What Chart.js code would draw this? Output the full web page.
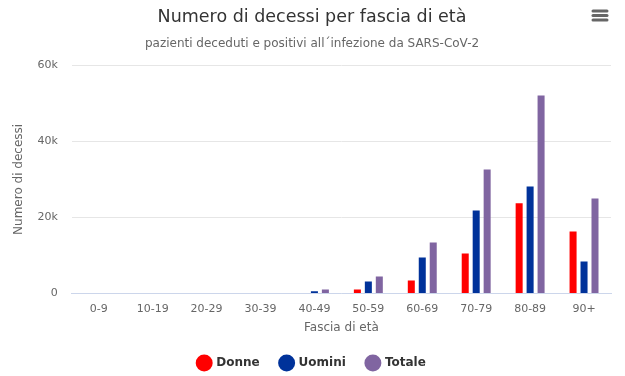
<!DOCTYPE html>
<html>
<head>
<meta charset="utf-8">
<script src="https://cdn.jsdelivr.net/npm/chart.js@4"></script>
<style>
  html, body { margin: 0; padding: 0; background: #fff; }
  #wrap { position: relative; width: 625px; height: 376px; }
</style>
</head>
<body>
<div id="wrap"><canvas id="barChart" width="625" height="376"></canvas></div>
<script>
// fasce di età
const fasce = ['0-9', '10-19', '20-29', '30-39', '40-49', '50-59', '60-69', '70-79', '80-89', '90+'];
// decessi stimati dal grafico
const donne  = [0, 0, 0, 0, 0, 1050, 3420, 10500, 23700, 16300];
const uomini = [0, 0, 0, 0, 550, 3150, 9470, 21800, 28150, 8400];
const totale = [0, 0, 0, 0, 1050, 4470, 13400, 32600, 52100, 25000];
const yTicks = [0, 20000, 40000, 60000];

const fontFam = "'DejaVu Sans', sans-serif";

// icona menu in alto a destra
const menuIcon = {
    id: 'menuIcon',
    afterDraw(chart) {
        const c = chart.ctx;
        c.save();
        c.strokeStyle = '#666';
        c.lineWidth = 3;
        c.lineCap = 'round';
        [11, 15.5, 20].forEach(y => {
            c.beginPath();
            c.moveTo(593, y);
            c.lineTo(607, y);
            c.stroke();
        });
        c.restore();
    }
};

const data = {
    labels: fasce,
    datasets: [
        { label: 'Donne', data: donne, backgroundColor: '#ff0000' },
        { label: 'Uomini', data: uomini, backgroundColor: '#00329a' },
        { label: 'Totale', data: totale, backgroundColor: '#8065a1' }
    ]
};

const config = {
    type: 'bar',
    data: data,
    plugins: [menuIcon],
    options: {
        responsive: false,
        animation: false,
        datasets: {
            bar: { barPercentage: 0.64, categoryPercentage: 0.61, borderWidth: 0 }
        },
        layout: { padding: { left: 13, right: 14, top: 0, bottom: -3 } },
        plugins: {
            title: {
                display: true,
                text: 'Numero di decessi per fascia di età',
                color: '#333',
                font: { family: fontFam, size: 17.5, weight: 'normal' },
                padding: { top: 7, bottom: 9 }
            },
            subtitle: {
                display: true,
                text: 'pazienti deceduti e positivi all´infezione da SARS-CoV-2',
                color: '#666',
                font: { family: fontFam, size: 12 },
                padding: { bottom: 14 }
            },
            legend: {
                position: 'bottom',
                labels: {
                    usePointStyle: true,
                    pointStyle: 'circle',
                    boxWidth: 12,
                    boxHeight: 12,
                    padding: 21,
                    color: '#333',
                    font: { family: fontFam, size: 12, weight: 'bold' }
                }
            },
            tooltip: { enabled: false }
        },
        scales: {
            x: {
                grid: { display: false, drawTicks: false },
                border: { color: '#ccd6eb', width: 1 },
                ticks: { color: '#666', font: { family: fontFam, size: 11 }, padding: 9 },
                title: {
                    display: true,
                    text: 'Fascia di età',
                    color: '#666',
                    font: { family: fontFam, size: 12 },
                    padding: { top: -4, bottom: 1 }
                }
            },
            y: {
                min: 0,
                max: 60000,
                afterBuildTicks(axis) {
                    axis.ticks = yTicks.map(v => ({ value: v }));
                },
                grid: { color: '#e6e6e6', drawTicks: false },
                border: { display: false },
                ticks: {
                    color: '#666',
                    font: { family: fontFam, size: 11 },
                    padding: 14,
                    callback: v => v === 0 ? '0' : (v / 1000) + 'k'
                },
                title: {
                    display: true,
                    text: 'Numero di decessi',
                    color: '#666',
                    font: { family: fontFam, size: 12 },
                    padding: { top: -1, bottom: -3 }
                }
            }
        }
    }
};

const barChart = new Chart(document.getElementById('barChart').getContext('2d'), config);
</script>
</body>
</html>
